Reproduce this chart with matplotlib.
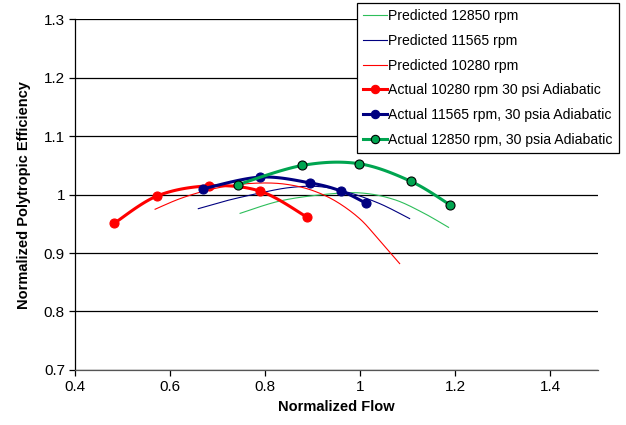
import numpy as np
import matplotlib
matplotlib.use("Agg")
from matplotlib import pyplot as plt

plt.rcParams['font.family'] = ['Liberation Sans', 'DejaVu Sans']

# predicted curves
pred_12850_x = [0.747, 0.83, 0.92, 1.00, 1.07, 1.13, 1.186]
pred_12850_y = [0.968, 0.989, 1.000, 1.003, 0.992, 0.970, 0.944]
pred_11565_x = [0.659, 0.72, 0.79, 0.85, 0.91, 0.97, 1.04, 1.104]
pred_11565_y = [0.976, 0.990, 1.003, 1.012, 1.014, 1.005, 0.985, 0.959]
pred_10280_x = [0.568, 0.62, 0.68, 0.74, 0.80, 0.85, 0.90, 0.95, 1.00, 1.04, 1.083]
pred_10280_y = [0.975, 0.993, 1.008, 1.017, 1.020, 1.017, 1.007, 0.988, 0.958, 0.922, 0.882]

# measured points
act_10280_x = [0.482, 0.573, 0.681, 0.789, 0.887]
act_10280_y = [0.951, 0.998, 1.015, 1.006, 0.962]
act_11565_x = [0.669, 0.789, 0.895, 0.960, 1.013]
act_11565_y = [1.010, 1.030, 1.020, 1.006, 0.985]
act_12850_x = [0.742, 0.878, 0.997, 1.106, 1.190]
act_12850_y = [1.017, 1.050, 1.053, 1.023, 0.982]

y_ticks = [0.7, 0.8, 0.9, 1.0, 1.1, 1.2, 1.3]
y_labels = ['0.7', '0.8', '0.9', '1', '1.1', '1.2', '1.3']
x_ticks = [0.4, 0.6, 0.8, 1.0, 1.2, 1.4]
x_labels = ['0.4', '0.6', '0.8', '1', '1.2', '1.4']


def smooth(xs, ys, n=30):
    # spreadsheet-style smoothed line: cubic bezier between points
    p = np.column_stack([xs, ys]).astype(float)
    pts = np.vstack([p[0], p, p[-1]])
    out = []
    for i in range(1, len(pts) - 2):
        p0, p1, p2, p3 = pts[i - 1], pts[i], pts[i + 1], pts[i + 2]
        c1 = p1 + (p2 - p0) / 6
        c2 = p2 - (p3 - p1) / 6
        t = np.linspace(0, 1, n)[:, None]
        seg = (1 - t) ** 3 * p1 + 3 * (1 - t) ** 2 * t * c1 + 3 * (1 - t) * t ** 2 * c2 + t ** 3 * p2
        out.append(seg if i == 1 else seg[1:])
    s = np.vstack(out)
    return s[:, 0], s[:, 1]


fig = plt.figure(figsize=(6.26, 4.25), dpi=100)
ax = fig.add_axes([0.1203, 0.1296, 0.8345, 0.8248])

for yv in y_ticks:
    ax.axhline(yv, color='black', lw=0.9, zorder=1)

sx, sy = smooth(pred_12850_x, pred_12850_y)
ax.plot(sx, sy, color='#2DBE5A', lw=0.8, label='Predicted 12850 rpm', zorder=3)
sx, sy = smooth(pred_11565_x, pred_11565_y)
ax.plot(sx, sy, color='#000080', lw=0.8, label='Predicted 11565 rpm', zorder=3)
sx, sy = smooth(pred_10280_x, pred_10280_y)
ax.plot(sx, sy, color='#FF0000', lw=0.8, label='Predicted 10280 rpm', zorder=3)

actual = [
    (act_10280_x, act_10280_y, '#FF0000', '#FF0000', 'Actual 10280 rpm 30 psi Adiabatic'),
    (act_11565_x, act_11565_y, '#000080', '#000080', 'Actual 11565 rpm, 30 psia Adiabatic'),
    (act_12850_x, act_12850_y, '#00A550', '#00A550', 'Actual 12850 rpm, 30 psia Adiabatic'),
]
for i, (xs, ys, c, fc, lab) in enumerate(actual):
    sx, sy = smooth(xs, ys)
    ec = 'black' if i == 2 else c
    ax.plot(sx, sy, color=c, lw=2.2, zorder=4 + i)
    ax.plot(xs, ys, 'o', color=c, mfc=fc, mec=ec, mew=0.8, ms=6.5, zorder=4 + i)
    ax.plot([], [], '-o', color=c, mfc=fc, mec=ec, mew=0.8, ms=6, lw=2.2, label=lab)

ax.set_xlim(0.4, 1.5)
ax.set_ylim(0.7, 1.3)
ax.set_xticks(x_ticks)
ax.set_xticklabels(x_labels)
ax.set_yticks(y_ticks)
ax.set_yticklabels(y_labels)
ax.tick_params(labelsize=11, direction='out', length=4, width=0.9, colors='black')
for side in ['top', 'right']:
    ax.spines[side].set_visible(False)
ax.spines['left'].set_linewidth(0.9)
ax.spines['bottom'].set_linewidth(0.9)
ax.spines['bottom'].set_color('#555555')

ax.set_xlabel('Normalized Flow', fontsize=10.5, fontweight='bold', labelpad=4)
ax.set_ylabel('Normalized Polytropic Efficiency', fontsize=10.5, fontweight='bold', labelpad=9)

handles, labels = ax.get_legend_handles_labels()
leg = fig.legend(handles, labels, loc='upper right', bbox_to_anchor=(0.989, 0.993),
                 fontsize=10.1, frameon=True, fancybox=False, framealpha=1,
                 edgecolor='black', handlelength=1.7, handletextpad=0.1,
                 labelspacing=0.76, borderpad=0.45, borderaxespad=0)
leg.get_frame().set_linewidth(0.9)
leg.set_zorder(10)

fig.savefig('out.png', dpi=100)
